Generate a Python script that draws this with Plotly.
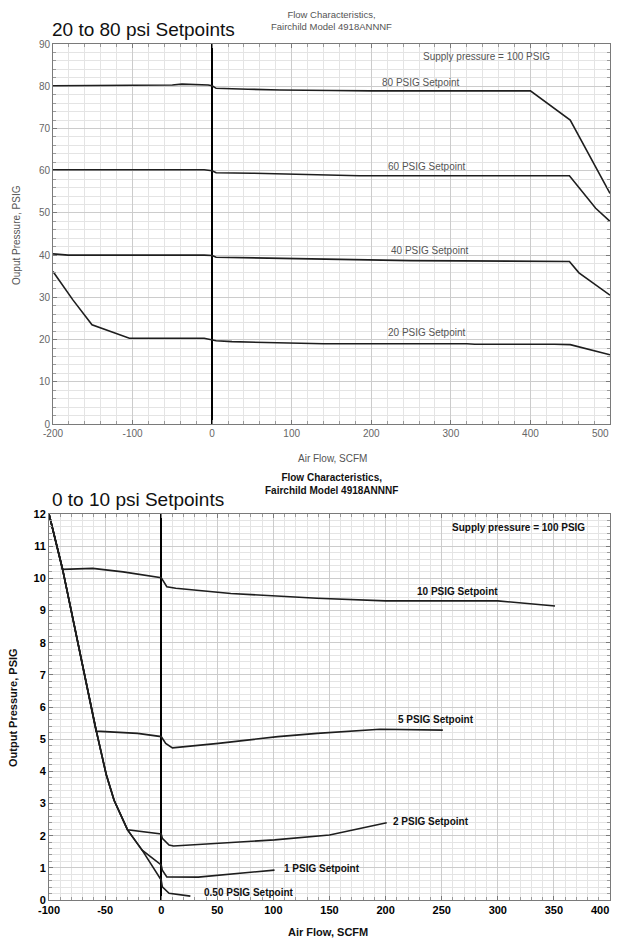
import plotly.graph_objects as go

W, H = 619, 941
OFF = 8  # page body margin of the browser
FW, FH = W - 2 * OFF, H - OFF

# ---------------- Top chart data (20 to 80 psi setpoints) ----------------
sp80_x = [-200, -100, -50, -38, -20, -5, 0, 5, 45, 85, 150, 200, 300, 400, 450, 500]
sp80_y = [80.1, 80.2, 80.3, 80.5, 80.4, 80.3, 80.1, 79.5, 79.3, 79.1, 79.0, 78.9, 78.9, 78.9, 72.0, 54.6]

sp60_x = [-200, -100, -10, 0, 5, 50, 91, 139, 185, 300, 449, 482, 500]
sp60_y = [60.2, 60.2, 60.2, 60.0, 59.5, 59.4, 59.2, 59.0, 58.8, 58.8, 58.8, 51.1, 48.0]

sp40_x = [-200, -181, -10, 0, 5, 60, 150, 250, 449, 461, 500]
sp40_y = [40.3, 40.0, 40.0, 39.9, 39.5, 39.3, 39.0, 38.7, 38.5, 35.8, 30.5]

sp20_x = [-200, -175, -151, -104, -10, 0, 5, 25, 80, 140, 320, 330, 430, 450, 500]
sp20_y = [36.1, 29.4, 23.5, 20.3, 20.3, 20.0, 19.7, 19.5, 19.3, 19.0, 19.0, 18.9, 18.9, 18.8, 16.4]

top_labels = ["80 PSIG Setpoint", "60 PSIG Setpoint", "40 PSIG Setpoint", "20 PSIG Setpoint"]
top_label_x = [262, 269, 273, 270]
top_label_y = [80.9, 61.0, 41.0, 21.6]

top_xtick_vals = [-200, -100, 0, 100, 200, 300, 400, 500]
top_xtick_text = ["-200", "-100", "0", "100", "200", "300", "400", ""]
top_last_tick = 500  # drawn as an edge-aligned label

# ---------------- Bottom chart data (0 to 10 psi setpoints) ----------------
sp10_x = [-100, -88, -61, -34, 0, 5, 13, 62, 139, 200, 300, 351]
sp10_y = [12.0, 10.28, 10.31, 10.2, 10.02, 9.74, 9.69, 9.53, 9.38, 9.3, 9.3, 9.14]

sp5_x = [-100, -88, -58, -21, 0, 4, 10, 51, 104, 139, 195, 236, 251]
sp5_y = [12.0, 10.3, 5.25, 5.18, 5.08, 4.87, 4.73, 4.87, 5.08, 5.18, 5.31, 5.3, 5.28]

sp2_x = [-100, -88, -58, -49, -42, -30, 0, 1, 7, 11, 101, 150, 201]
sp2_y = [12.0, 10.3, 5.28, 3.9, 3.1, 2.18, 2.05, 1.92, 1.71, 1.68, 1.87, 2.02, 2.4]

sp1_x = [-100, -88, -58, -49, -42, -30, -17, 0, 1, 5, 33, 101]
sp1_y = [12.0, 10.3, 5.28, 3.9, 3.1, 2.18, 1.55, 1.09, 0.93, 0.72, 0.71, 0.93]

sp05_x = [-100, -88, -58, -49, -42, -30, -17, 0, 1, 7, 26]
sp05_y = [12.0, 10.3, 5.28, 3.9, 3.1, 2.18, 1.55, 0.62, 0.41, 0.21, 0.12]

bot_labels = ["10 PSIG Setpoint", "5 PSIG Setpoint", "2 PSIG Setpoint", "1 PSIG Setpoint", "0.50 PSIG Setpoint"]
bot_label_x = [264, 245, 205, 108, 36]
bot_label_y = [9.6, 5.62, 2.43, 0.99, 0.22]
bot_label_anchor = ["center", "center", "left", "left", "left"]

bot_xtick_vals = [-100, -50, 0, 50, 100, 150, 200, 250, 300, 350, 400]
bot_xtick_text = ["-100", "-50", "0", "50", "100", "150", "200", "250", "300", "350", ""]
bot_last_tick = 400  # drawn as an edge-aligned label

# ---------------- layout helpers (window pixels -> paper fractions) ----------------
def fx(px):
    return (px - OFF) / FW

def fy(py):
    return 1 - (py - OFF) / FH

TOP = dict(x0=53, x1=610, y0=44, y1=424)
BOT = dict(x0=49, x1=610, y0=514, y1=900)

GRAY = "#666666"
LINE = "#1e1e1e"

fig = go.Figure()

for xs, ys in [(sp80_x, sp80_y), (sp60_x, sp60_y), (sp40_x, sp40_y), (sp20_x, sp20_y)]:
    fig.add_trace(go.Scatter(x=xs, y=ys, mode="lines", line=dict(color=LINE, width=1.6),
                             xaxis="x", yaxis="y", showlegend=False, hoverinfo="skip"))

for xs, ys in [(sp10_x, sp10_y), (sp5_x, sp5_y), (sp2_x, sp2_y), (sp1_x, sp1_y), (sp05_x, sp05_y)]:
    fig.add_trace(go.Scatter(x=xs, y=ys, mode="lines", line=dict(color=LINE, width=1.6),
                             xaxis="x2", yaxis="y2", showlegend=False, hoverinfo="skip"))


def axis(domain, rng, dtick, mdtick, fontdict, zeroline=False):
    return dict(
        domain=domain, range=rng, dtick=dtick, tick0=rng[0], automargin=False,
        showgrid=True, gridcolor="#cccccc", gridwidth=1,
        showline=True, linecolor="#7a7a7a", linewidth=1, mirror="ticks",
        ticks="inside", ticklen=4, tickcolor="#7a7a7a",
        minor=dict(dtick=mdtick, showgrid=True, gridcolor="#e4e4e4", gridwidth=1,
                   ticks="inside", ticklen=3, tickcolor="#9a9a9a"),
        zeroline=zeroline, zerolinecolor="#000000", zerolinewidth=1.5,
        tickfont=fontdict, fixedrange=True, ticklabeloverflow="allow",
    )

top_tick_font = dict(family="Liberation Sans, Arial", size=10, color=GRAY)
bot_tick_font = dict(family="Liberation Sans, Arial", size=11, color="#000000")

fig.update_layout(
    width=FW, height=FH, margin=dict(l=0, r=0, t=0, b=0, autoexpand=False),
    paper_bgcolor="white", plot_bgcolor="white",
    xaxis=axis([fx(TOP["x0"]), fx(TOP["x1"])], [-200, 500], 100, 20, top_tick_font, zeroline=True),
    yaxis=axis([fy(TOP["y1"]), fy(TOP["y0"])], [0, 90], 10, 2, top_tick_font),
    xaxis2=axis([fx(BOT["x0"]), fx(BOT["x1"])], [-100, 400], 50, 10, bot_tick_font, zeroline=True),
    yaxis2=axis([fy(BOT["y1"]), fy(BOT["y0"])], [0, 12], 1, 0.2, bot_tick_font),
)
fig.layout.xaxis.tickvals = top_xtick_vals
fig.layout.xaxis.ticktext = top_xtick_text
fig.layout.xaxis2.tickvals = bot_xtick_vals
fig.layout.xaxis2.ticktext = bot_xtick_text
fig.layout.xaxis.anchor = "y"
fig.layout.yaxis.anchor = "x"
fig.layout.xaxis2.anchor = "y2"
fig.layout.yaxis2.anchor = "x2"
fig.layout.xaxis2.tickfont.update(weight="bold")
fig.layout.yaxis2.tickfont.update(weight="bold")

ann = []
# curve labels
for t, x, y in zip(top_labels, top_label_x, top_label_y):
    ann.append(dict(text=t, x=x, y=y, xref="x", yref="y", showarrow=False,
                    font=dict(family="Liberation Sans, Arial", size=10, color="#555555"),
                    xanchor="center", yanchor="middle"))
for t, x, y, a in zip(bot_labels, bot_label_x, bot_label_y, bot_label_anchor):
    ann.append(dict(text="<b>" + t + "</b>", x=x, y=y, xref="x2", yref="y2", showarrow=False,
                    font=dict(family="Liberation Sans, Arial", size=10, color="#111111"),
                    xanchor=a, yanchor="middle"))

# last x tick labels, kept inside the page edge
ann.append(dict(text=str(top_last_tick), x=top_last_tick, y=fy(433), xref="x", yref="paper",
                showarrow=False, xanchor="right", yanchor="middle", borderpad=0,
                font=dict(family="Liberation Sans, Arial", size=10, color=GRAY)))
ann.append(dict(text="<b>" + str(bot_last_tick) + "</b>", x=bot_last_tick, y=fy(910), xref="x2", yref="paper",
                showarrow=False, xanchor="right", yanchor="middle", borderpad=0,
                font=dict(family="Liberation Sans, Arial", size=11, color="#000000")))

# titles
TITLE_FONT = "Liberation Sans, Arial, sans-serif"
ann.append(dict(text="20 to 80 psi Setpoints", x=fx(50), y=fy(42), xref="paper", yref="paper",
                showarrow=False, xanchor="left", yanchor="bottom",
                font=dict(family=TITLE_FONT, size=19, color="#111111")))
ann.append(dict(text="0 to 10 psi Setpoints", x=fx(50), y=fy(512), xref="paper", yref="paper",
                showarrow=False, xanchor="left", yanchor="bottom",
                font=dict(family=TITLE_FONT, size=19, color="#111111")))
ann.append(dict(text="Flow Characteristics,<br>Fairchild Model 4918ANNNF", x=fx(331), y=fy(8),
                xref="paper", yref="paper", showarrow=False, xanchor="center", yanchor="top",
                borderpad=0, font=dict(family="Liberation Sans, Arial", size=9.5, color="#555555")))
ann.append(dict(text="<b>Flow Characteristics,<br>Fairchild Model 4918ANNNF</b>", x=fx(331), y=fy(471),
                xref="paper", yref="paper", showarrow=False, xanchor="center", yanchor="top",
                borderpad=0, font=dict(family="Liberation Sans, Arial", size=10, color="#111111")))
ann.append(dict(text="Supply pressure = 100 PSIG", x=fx(421), y=fy(57), xref="paper", yref="paper",
                showarrow=False, xanchor="left", yanchor="middle",
                font=dict(family="Liberation Sans, Arial", size=10, color="#555555")))
ann.append(dict(text="<b>Supply pressure = 100 PSIG</b>", x=fx(450), y=fy(527), xref="paper", yref="paper",
                showarrow=False, xanchor="left", yanchor="middle",
                font=dict(family="Liberation Sans, Arial", size=10, color="#111111")))
# axis titles
ann.append(dict(text="Ouput Pressure, PSIG", x=fx(17), y=fy(235), xref="paper", yref="paper",
                showarrow=False, textangle=-90, xanchor="center", yanchor="middle",
                font=dict(family="Liberation Sans, Arial", size=10, color="#555555")))
ann.append(dict(text="Air Flow, SCFM", x=fx(332), y=fy(458), xref="paper", yref="paper",
                showarrow=False, xanchor="center", yanchor="middle",
                font=dict(family="Liberation Sans, Arial", size=10, color="#555555")))
ann.append(dict(text="<b>Output Pressure, PSIG</b>", x=fx(13), y=fy(708), xref="paper", yref="paper",
                showarrow=False, textangle=-90, xanchor="center", yanchor="middle",
                font=dict(family="Liberation Sans, Arial", size=11, color="#111111")))
ann.append(dict(text="<b>Air Flow, SCFM</b>", x=fx(328), y=fy(932), xref="paper", yref="paper",
                showarrow=False, xanchor="center", yanchor="middle",
                font=dict(family="Liberation Sans, Arial", size=11, color="#111111")))

fig.update_layout(annotations=ann)
fig.write_html("out.html")
